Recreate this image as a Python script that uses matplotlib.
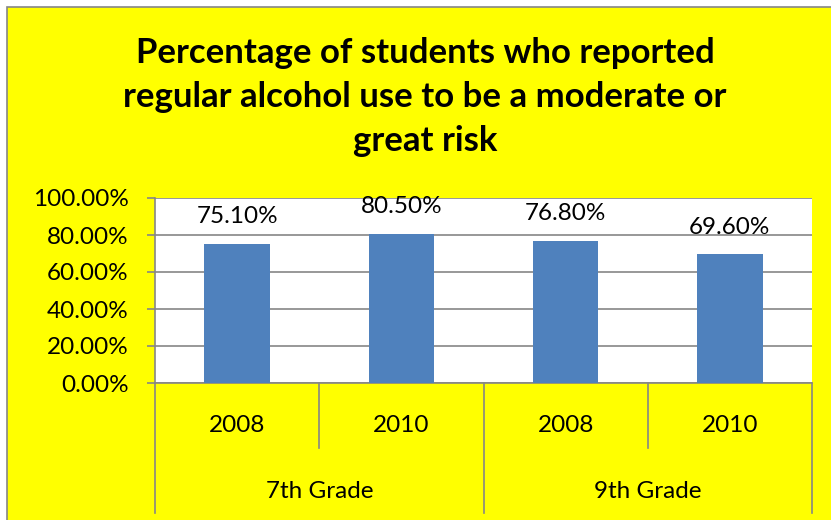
import matplotlib.pyplot as plt
from matplotlib.patches import Rectangle
from matplotlib.ticker import FuncFormatter, FixedLocator

# data
years = ["2008", "2010", "2008", "2010"]
grades = ["7th Grade", "9th Grade"]
values = [75.1, 80.5, 76.8, 69.6]
title = "Percentage of students who reported\nregular alcohol use to be a moderate or\ngreat risk"

YELLOW = "#FFFF00"
BAR = "#4F81BD"
GREY = "#868686"
W, H = 831, 520
FS = 17.5

plt.rcParams["font.family"] = ["Lato", "DejaVu Sans"]

fig = plt.figure(figsize=(W / 100, H / 100), dpi=100, facecolor="white")
# chart area with thin grey border, cut off at right/bottom
fig.patches.append(Rectangle((7 / W, -0.1), 1.2, 1 - 7 / H + 0.1, transform=fig.transFigure,
                             facecolor=YELLOW, edgecolor=GREY, linewidth=1.2, zorder=-5))

fig.text(425 / W, 1 - 97 / H, title, ha="center", va="center", fontsize=25,
         fontweight="bold", linespacing=1.45)

left, right, top, bottom = 155, 812, 198, 383
ax = fig.add_axes([left / W, 1 - bottom / H, (right - left) / W, (bottom - top) / H])
ax.set_facecolor("white")

x = list(range(len(values)))
ax.bar(x, values, width=0.4, color=BAR, zorder=3)
ax.set_xlim(-0.5, len(values) - 0.5)
ax.set_ylim(0, 100)

for xi, v in zip(x, values):
    ax.annotate(f"{v:.2f}%", (xi, v), xytext=(0, 19.5), textcoords="offset points",
                ha="center", va="center", fontsize=FS)

ax.yaxis.set_major_locator(FixedLocator([0, 20, 40, 60, 80, 100]))
ax.yaxis.set_major_formatter(FuncFormatter(lambda v, p: f"{v:.2f}%"))
ax.tick_params(axis="y", labelsize=FS, length=6, color=GREY, width=1.2, pad=13)
ax.grid(axis="y", color=GREY, linewidth=1.2, zorder=1)
ax.set_xticks([])
for s in ["top", "right"]:
    ax.spines[s].set_visible(False)
ax.spines["left"].set_color(GREY)
ax.spines["bottom"].set_color(GREY)
ax.spines["left"].set_linewidth(1.2)
ax.spines["bottom"].set_linewidth(1.2)

# two-level category axis below the plot
tr = ax.get_xaxis_transform()
ph = bottom - top
year_y = -(448 - bottom) / ph
grade_y = -(513 - bottom) / ph
for i, yr in enumerate(years):
    ax.text(i, -(426 - bottom) / ph, yr, transform=tr, ha="center", va="center", fontsize=FS)
edges = [i - 0.5 for i in range(len(years) + 1)]
for j, e in enumerate(edges):
    end = grade_y if j % 2 == 0 else year_y
    ax.plot([e, e], [0, end], transform=tr, color=GREY, linewidth=1.2, clip_on=False)
for g, name in enumerate(grades):
    ax.text(2 * g + 0.5, -(491 - bottom) / ph, name, transform=tr, ha="center", va="center",
            fontsize=FS)

fig.savefig("out.png", dpi=100, facecolor=fig.get_facecolor())
